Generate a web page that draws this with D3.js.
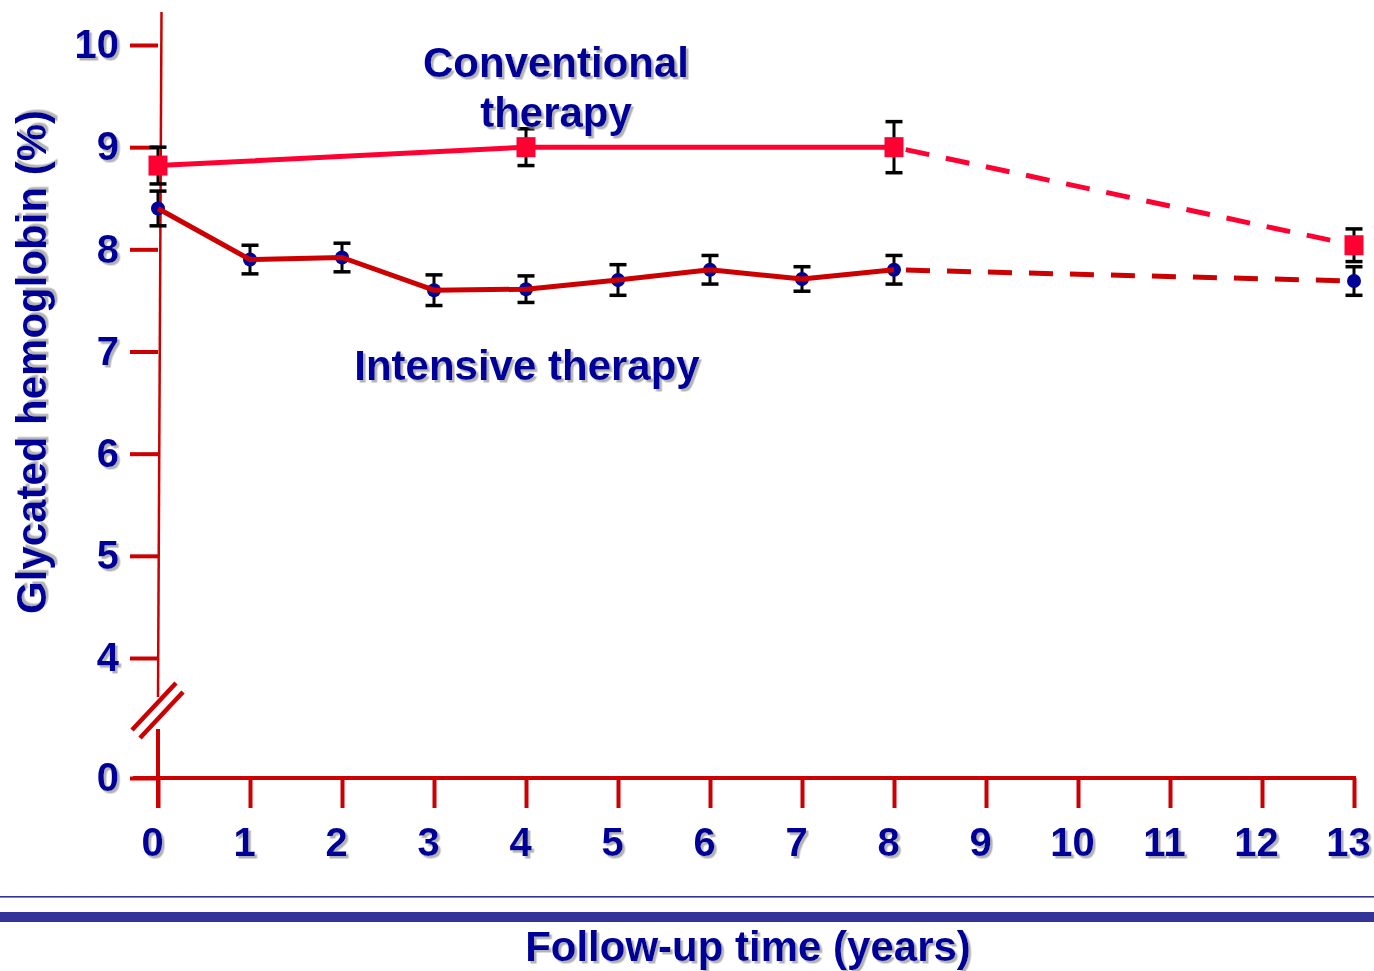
<!DOCTYPE html>
<html>
<head>
<meta charset="utf-8">
<script src="https://cdn.jsdelivr.net/npm/d3@7"></script>
<style>
  html, body { margin: 0; padding: 0; background: #ffffff; }
  svg { display: block; }
  text { font-family: "Liberation Sans", Arial, sans-serif; font-weight: bold; }
</style>
</head>
<body>
<svg id="chart" width="1374" height="971"></svg>
<script>
// ---- data ----
const intensiveYears = [0, 1, 2, 3, 4, 5, 6, 7, 8, 13];
const intensiveValues = [8.4, 7.9, 7.92, 7.6, 7.61, 7.7, 7.8, 7.71, 7.8, 7.69];
const intensiveErrors = [0.17, 0.14, 0.14, 0.15, 0.13, 0.15, 0.14, 0.12, 0.14, 0.14];

const conventionalYears = [0, 4, 8, 13];
const conventionalValues = [8.82, 9.0, 9.0, 8.04];
const conventionalErrors = [0.18, 0.18, 0.25, 0.16];

const xTickLabels = [0, 1, 2, 3, 4, 5, 6, 7, 8, 9, 10, 11, 12, 13];
const yTickLabels = [0, 4, 5, 6, 7, 8, 9, 10];

const lastObservedYear = 8;

const conventionalLabel = ["Conventional", "therapy"];
const intensiveLabel = "Intensive therapy";
const xTitle = "Follow-up time (years)";
const yTitle = "Glycated hemoglobin (%)";

// ---- styles ----
const AXIS = "#CC0000";
const CONV = "#FF0033";
const INT_LINE = "#CC0000";
const INT_DOT = "#000099";
const TEXT = "#000099";
const BAND = "#333399";

const svg = d3.select("#chart");

const defs = svg.append("defs");
const f = defs.append("filter").attr("id", "shadow")
  .attr("x", "-10%").attr("y", "-10%").attr("width", "130%").attr("height", "130%");
f.append("feDropShadow").attr("dx", 2.5).attr("dy", 2.5)
  .attr("stdDeviation", 0.6).attr("flood-color", "#999999").attr("flood-opacity", 0.75);

// ---- scales ----
const x = d3.scaleLinear().domain([0, 13]).range([158, 1354]);
const y = d3.scaleLinear().domain([0, 4, 10]).range([778, 658, 45]);

const intensive = intensiveYears.map((yr, i) => ({ x: yr, v: intensiveValues[i], e: intensiveErrors[i] }));
const conventional = conventionalYears.map((yr, i) => ({ x: yr, v: conventionalValues[i], e: conventionalErrors[i] }));

// ---- axes ----
const yAxis = d3.axisLeft(y).tickValues(yTickLabels).tickSize(28).tickPadding(11).tickFormat(d3.format("d"));
const gy = svg.append("g").attr("transform", `translate(${x(0)},0)`).call(yAxis);
gy.select(".domain").remove();
gy.selectAll(".tick line").attr("stroke", AXIS).attr("stroke-width", 4);
gy.selectAll(".tick text").attr("fill", TEXT).attr("font-size", 40)
  .attr("filter", "url(#shadow)");

const xAxis = d3.axisBottom(x).tickValues(xTickLabels).tickSize(30).tickPadding(20).tickFormat(d3.format("d"));
const gx = svg.append("g").attr("transform", `translate(0,${y(0)})`).call(xAxis);
gx.select(".domain").remove();
gx.selectAll(".tick line").attr("stroke", AXIS).attr("stroke-width", 4);
gx.selectAll(".tick text").attr("fill", TEXT).attr("font-size", 40)
  .attr("dx", -6).attr("filter", "url(#shadow)");

// x axis line
svg.append("line")
  .attr("x1", x(0) - 25).attr("x2", x(13) + 2)
  .attr("y1", y(0)).attr("y2", y(0))
  .attr("stroke", AXIS).attr("stroke-width", 4);

// y axis upper (thin, slight slant) and lower segment, with break
svg.append("line")
  .attr("x1", x(0) + 3.5).attr("y1", 12)
  .attr("x2", x(0)).attr("y2", y(0) - 81)
  .attr("stroke", AXIS).attr("stroke-width", 2.5);
svg.append("line")
  .attr("x1", x(0)).attr("y1", y(0) - 49)
  .attr("x2", x(0)).attr("y2", y(0) + 30)
  .attr("stroke", AXIS).attr("stroke-width", 4);
[[-26, -48, 18, -95], [-18, -40, 25, -86]].forEach(d => {
  svg.append("line")
    .attr("x1", x(0) + d[0]).attr("y1", y(0) + d[1])
    .attr("x2", x(0) + d[2]).attr("y2", y(0) + d[3])
    .attr("stroke", AXIS).attr("stroke-width", 4.5);
});

// ---- error bars ----
function errorBars(data, cls) {
  const g = svg.append("g").attr("class", cls);
  data.forEach(d => {
    g.append("line").attr("x1", x(d.x)).attr("x2", x(d.x))
      .attr("y1", y(d.v + d.e)).attr("y2", y(d.v - d.e))
      .attr("stroke", "#000").attr("stroke-width", 3);
    [d.v + d.e, d.v - d.e].forEach(v => {
      g.append("line").attr("x1", x(d.x) - 8.5).attr("x2", x(d.x) + 8.5)
        .attr("y1", y(v)).attr("y2", y(v))
        .attr("stroke", "#000").attr("stroke-width", 3.5);
    });
  });
}
errorBars(conventional, "err-conv");
errorBars(intensive, "err-int");

// ---- markers ----
svg.append("g").selectAll("circle").data(intensive).join("circle")
  .attr("cx", d => x(d.x)).attr("cy", d => y(d.v)).attr("r", 7)
  .attr("fill", INT_DOT);

// ---- lines ----
const line = d3.line().x(d => x(d.x)).y(d => y(d.v));

function drawSeries(data, color) {
  svg.append("path").datum(data.filter(d => d.x <= lastObservedYear))
    .attr("d", line).attr("fill", "none").attr("stroke", color).attr("stroke-width", 5)
    .attr("stroke-linejoin", "round");
  svg.append("path").datum(data.filter(d => d.x >= lastObservedYear))
    .attr("d", line).attr("fill", "none").attr("stroke", color).attr("stroke-width", 5)
    .attr("stroke-dasharray", "24,17").attr("stroke-dashoffset", -12);
}
drawSeries(intensive, INT_LINE);
drawSeries(conventional, CONV);

svg.append("g").selectAll("rect").data(conventional).join("rect")
  .attr("x", d => x(d.x) - 9.5).attr("y", d => y(d.v) - 10)
  .attr("width", 19).attr("height", 20)
  .attr("fill", CONV);

// ---- labels ----
const conv = svg.append("text").attr("fill", TEXT).attr("font-size", 42)
  .attr("text-anchor", "middle").attr("filter", "url(#shadow)");
conventionalLabel.forEach((t, i) => {
  conv.append("tspan").attr("x", 556).attr("y", 77 + i * 50).text(t);
});

svg.append("text").attr("x", 527).attr("y", 380)
  .attr("fill", TEXT).attr("font-size", 42).attr("text-anchor", "middle")
  .attr("filter", "url(#shadow)").text(intensiveLabel);

svg.append("text")
  .attr("transform", "translate(46,362) rotate(-90)")
  .attr("fill", TEXT).attr("font-size", 42).attr("text-anchor", "middle")
  .attr("filter", "url(#shadow)").text(yTitle);

// bottom bands
svg.append("rect").attr("x", 0).attr("y", 896).attr("width", 1374).attr("height", 1.6).attr("fill", BAND);
svg.append("rect").attr("x", 0).attr("y", 912).attr("width", 1374).attr("height", 10).attr("fill", BAND);

svg.append("text").attr("x", 748).attr("y", 961)
  .attr("fill", TEXT).attr("font-size", 42).attr("text-anchor", "middle")
  .attr("filter", "url(#shadow)").text(xTitle);
</script>
</body>
</html>
